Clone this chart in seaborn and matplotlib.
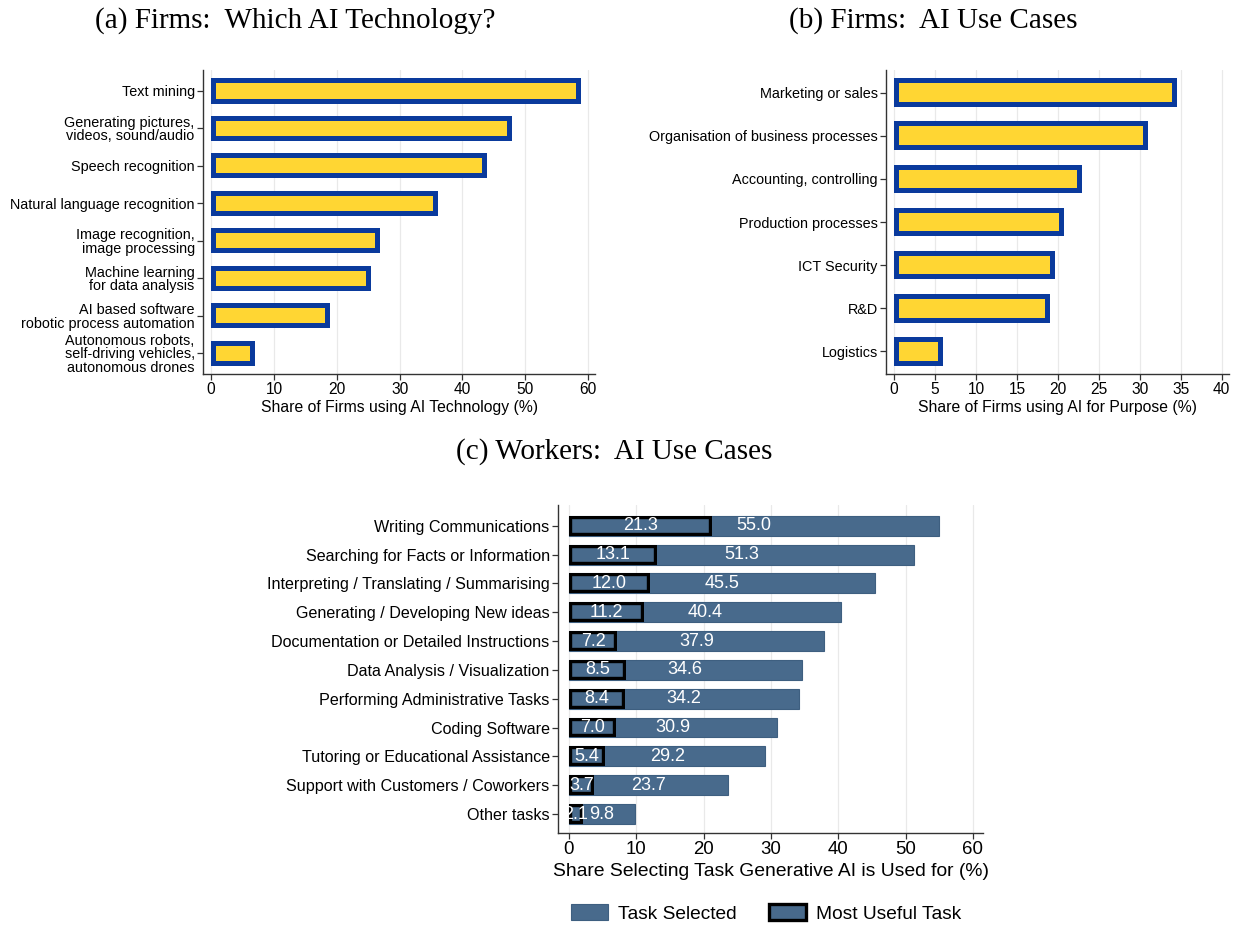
import matplotlib
matplotlib.use("Agg")
import matplotlib.pyplot as plt
import seaborn as sns
import pandas as pd
from matplotlib.patches import Patch

# Panel (a): AI technologies used by firms
tech_labels = [
    "Text mining",
    "Generating pictures,\nvideos, sound/audio",
    "Speech recognition",
    "Natural language recognition",
    "Image recognition,\nimage processing",
    "Machine learning\nfor data analysis",
    "AI based software\nrobotic process automation",
    "Autonomous robots,\nself-driving vehicles,\nautonomous drones",
]
tech_share = [58.9, 47.9, 43.9, 36.1, 26.8, 25.5, 18.9, 6.9]

# Panel (b): purposes of AI use by firms
purpose_labels = [
    "Marketing or sales",
    "Organisation of business processes",
    "Accounting, controlling",
    "Production processes",
    "ICT Security",
    "R&D",
    "Logistics",
]
purpose_share = [34.6, 31.0, 23.0, 20.7, 19.7, 19.0, 6.0]

# Panel (c): tasks workers use generative AI for
task_labels = [
    "Writing Communications",
    "Searching for Facts or Information",
    "Interpreting / Translating / Summarising",
    "Generating / Developing New ideas",
    "Documentation or Detailed Instructions",
    "Data Analysis / Visualization",
    "Performing Administrative Tasks",
    "Coding Software",
    "Tutoring or Educational Assistance",
    "Support with Customers / Coworkers",
    "Other tasks",
]
task_selected = [55.0, 51.3, 45.5, 40.4, 37.9, 34.6, 34.2, 30.9, 29.2, 23.7, 9.8]
task_most_useful = [21.3, 13.1, 12.0, 11.2, 7.2, 8.5, 8.4, 7.0, 5.4, 3.7, 2.1]

YELLOW = "#FFD633"
EU_BLUE = "#0A3A9C"
STEEL = "#486A8C"

sns.set_theme(style="ticks")
plt.rcParams["font.family"] = ["Liberation Sans", "DejaVu Sans"]
plt.rcParams["text.color"] = "black"
plt.rcParams["axes.labelcolor"] = "black"
plt.rcParams["axes.edgecolor"] = "#333333"
plt.rcParams["xtick.color"] = "#333333"
plt.rcParams["ytick.color"] = "#333333"
plt.rcParams["xtick.labelcolor"] = "black"
plt.rcParams["ytick.labelcolor"] = "black"

fig = plt.figure(figsize=(12.44, 9.26), dpi=100)

ax_a = fig.add_axes([0.1632, 0.5961, 0.3151, 0.3283])
ax_b = fig.add_axes([0.7122, 0.5961, 0.2757, 0.3283])
ax_c = fig.add_axes([0.4486, 0.1004, 0.3416, 0.3542])


def inner_stroke(container):
    # keep the outline inside each bar
    for p in container.patches:
        p.set_clip_path(p)


def style_axes(ax, xlim, ticks, n, top_pad, bottom_pad, tick_fs, label_fs):
    ax.set_xlim(*xlim)
    ax.set_xticks(ticks)
    ax.set_ylim(n - 1 + bottom_pad, -top_pad)
    ax.xaxis.grid(True, color="#e9e9e9", lw=0.9)
    ax.set_axisbelow(True)
    sns.despine(ax=ax)
    ax.spines["left"].set_linewidth(1.0)
    ax.spines["bottom"].set_linewidth(1.0)
    ax.tick_params(axis="both", length=4, width=0.9, pad=2)
    ax.tick_params(axis="x", labelsize=tick_fs)
    ax.tick_params(axis="y", labelsize=label_fs)
    for t in ax.get_yticklabels():
        t.set_linespacing(0.95)


# (a)
df_a = pd.DataFrame({"label": tech_labels, "share": tech_share})
sns.barplot(data=df_a, x="share", y="label", orient="h", color=YELLOW,
            saturation=1, edgecolor=EU_BLUE, linewidth=7.2, width=0.67, ax=ax_a)
inner_stroke(ax_a.containers[0])
style_axes(ax_a, (-1.3, 61.1), range(0, 61, 10), len(tech_labels), 0.56, 0.56, 11.2, 10.4)
ax_a.set_ylabel("")
ax_a.set_xlabel("Share of Firms using AI Technology (%)", fontsize=11.3, labelpad=2)

# (b)
df_b = pd.DataFrame({"label": purpose_labels, "share": purpose_share})
sns.barplot(data=df_b, x="share", y="label", orient="h", color=YELLOW,
            saturation=1, edgecolor=EU_BLUE, linewidth=7.2, width=0.67, ax=ax_b)
inner_stroke(ax_b.containers[0])
style_axes(ax_b, (-1.0, 40.9), range(0, 41, 5), len(purpose_labels), 0.53, 0.53, 11.2, 10.4)
ax_b.set_ylabel("")
ax_b.set_xlabel("Share of Firms using AI for Purpose (%)", fontsize=11.3, labelpad=2)

# (c)
df_c = pd.DataFrame({"label": task_labels, "selected": task_selected,
                     "most_useful": task_most_useful})
sns.barplot(data=df_c, x="selected", y="label", orient="h", color=STEEL,
            saturation=1, edgecolor="#3E5F80", linewidth=0.8, width=0.69, ax=ax_c)
sns.barplot(data=df_c, x="most_useful", y="label", orient="h", color=STEEL,
            saturation=1, edgecolor="black", linewidth=4.6, width=0.69, ax=ax_c)
inner_stroke(ax_c.containers[1])
ax_c.bar_label(ax_c.containers[0], labels=[f"{v:.1f}" for v in task_selected],
               label_type="center", color="white", fontsize=13)
ax_c.bar_label(ax_c.containers[1], labels=[f"{v:.1f}" for v in task_most_useful],
               label_type="center", color="white", fontsize=13)
style_axes(ax_c, (-1.6, 61.5), range(0, 61, 10), len(task_labels), 0.72, 0.66, 13.4, 11.6)
ax_c.set_ylabel("")
ax_c.set_xlabel("Share Selecting Task Generative AI is Used for (%)", fontsize=13.9, labelpad=3)

# panel titles
title_kw = dict(family=["Liberation Serif", "DejaVu Serif"], fontsize=21,
                ha="center", va="center", color="black")
fig.text(0.237, 0.978, "(a) Firms:  Which AI Technology?", **title_kw)
fig.text(0.750, 0.978, "(b) Firms:  AI Use Cases", **title_kw)
fig.text(0.4936, 0.5119, "(c) Workers:  AI Use Cases", **title_kw)

handles = [
    Patch(facecolor=STEEL, edgecolor="#3E5F80", linewidth=0.8, label="Task Selected"),
    Patch(facecolor=STEEL, edgecolor="black", linewidth=2.4, label="Most Useful Task"),
]
fig.legend(handles=handles, loc="center", bbox_to_anchor=(0.616, 0.0135), ncol=2,
           frameon=False, fontsize=13.8, handlelength=1.9, handleheight=0.85,
           columnspacing=1.7, handletextpad=0.55)

fig.savefig("out.png", dpi=100)
